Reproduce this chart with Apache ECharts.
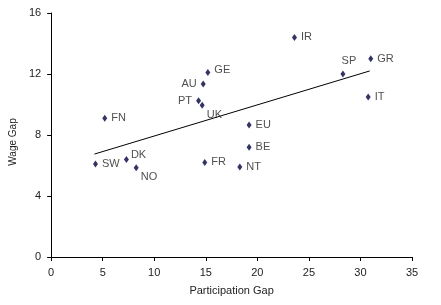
<!DOCTYPE html>
<html>
<head>
<meta charset="utf-8">
<script src="https://cdn.jsdelivr.net/npm/echarts@6/dist/echarts.min.js"></script>
<style>
html,body{margin:0;padding:0;background:#fff;}
#chart{width:441px;height:305px;}
</style>
</head>
<body>
<div id="chart"></div>
<script>
// Data
var countries = ['FN','AU','GE','PT','UK','IR','SP','GR','IT','EU','BE','FR','NT','SW','DK','NO'];
var participationGap = [5.2, 14.75, 15.2, 14.3, 14.65, 23.6, 28.3, 31.0, 30.75, 19.2, 19.2, 14.9, 18.3, 4.3, 7.3, 8.25];
var wageGap = [9.1, 11.35, 12.1, 10.25, 9.95, 14.4, 12.0, 13.0, 10.5, 8.65, 7.2, 6.2, 5.9, 6.1, 6.4, 5.85];
var trendX = [4.2, 30.9];
var trendY = [6.75, 12.2];
var xTicks = [0, 5, 10, 15, 20, 25, 30, 35];
var yTicks = [0, 4, 8, 12, 16];

// label placement (style only)
var labelPos = {
  AU: {position: 'left', offset: [0, 0]},
  PT: {position: 'left', offset: [0, 0]},
  UK: {position: 'right', offset: [-2, 10]},
  SP: {position: 'top', offset: [6, 0]},
  GE: {position: 'right', offset: [0, -3]},
  DK: {position: 'right', offset: [-2, -4]},
  NO: {position: 'right', offset: [-2, 9]}
};

var pts = countries.map(function (c, i) {
  var lp = labelPos[c] || {position: 'right', offset: [0, 0]};
  return {
    name: c,
    value: [participationGap[i], wageGap[i]],
    label: {position: lp.position, offset: lp.offset}
  };
});

var chart = echarts.init(document.getElementById('chart'), null, {renderer: 'canvas'});
var axisText = {color: '#222', fontFamily: 'Liberation Sans, Arial, sans-serif', fontSize: 11};
chart.setOption({
  animation: false,
  backgroundColor: '#fff',
  grid: {left: 50, right: 29, top: 13, bottom: 48, containLabel: false},
  xAxis: {
    type: 'value', min: xTicks[0], max: xTicks[xTicks.length - 1], interval: 5,
    name: 'Participation Gap', nameLocation: 'middle', nameGap: 28,
    nameTextStyle: axisText,
    axisLine: {show: true, lineStyle: {color: '#000', width: 1}},
    axisTick: {show: true, length: 4, lineStyle: {color: '#000'}},
    axisLabel: Object.assign({margin: 10}, axisText),
    splitLine: {show: false}
  },
  yAxis: {
    type: 'value', min: yTicks[0], max: yTicks[yTicks.length - 1], interval: 4,
    name: 'Wage Gap', nameLocation: 'middle', nameGap: 30,
    nameTextStyle: Object.assign({}, axisText, {fontSize: 10, padding: [0, 0, 0, -14]}),
    axisLine: {show: true, lineStyle: {color: '#000', width: 1}},
    axisTick: {show: true, length: 4, lineStyle: {color: '#000'}},
    axisLabel: Object.assign({margin: 10}, axisText),
    splitLine: {show: false}
  },
  series: [
    {
      type: 'line',
      data: trendX.map(function (x, i) { return [x, trendY[i]]; }),
      showSymbol: false, symbol: 'none',
      lineStyle: {color: '#000', width: 1},
      silent: true, z: 1
    },
    {
      type: 'scatter',
      data: pts,
      symbol: 'diamond', symbolSize: [5, 7],
      itemStyle: {color: '#000040'},
      label: {
        show: true, formatter: '{b}', distance: 4,
        color: '#222', fontFamily: 'Liberation Sans, Arial, sans-serif', fontSize: 11
      },
      z: 2
    }
  ]
});
</script>
</body>
</html>
